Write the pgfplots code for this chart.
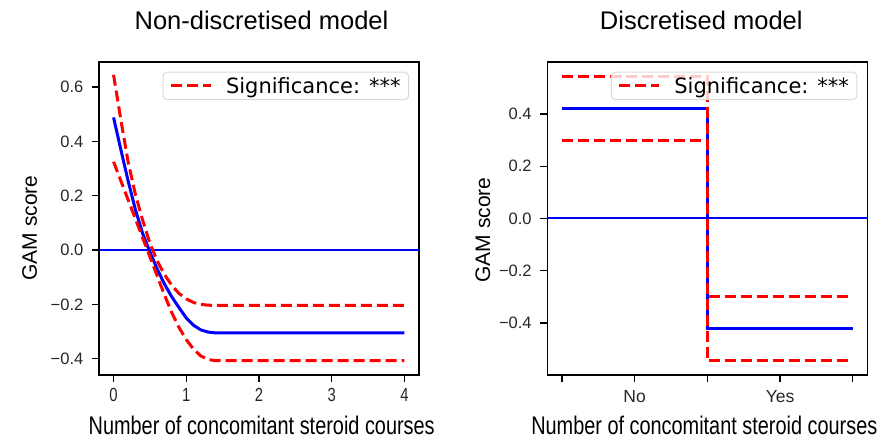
\documentclass[border=0pt]{standalone}
\usepackage{pgfplots}
\pgfplotsset{compat=1.18}
\usepackage{fontspec}
\setmainfont{DejaVu Sans}
\newfontfamily\lib{Liberation Sans}
\newfontfamily\libn[FakeStretch=0.78]{Liberation Sans}

\pgfplotsset{
  gamstyle/.style={
    scale only axis, width=320pt, height=313pt,
    xmin=-0.2, xmax=4.2,
    axis line style={line width=1.6pt, black},
    tick align=outside, xtick pos=bottom, ytick pos=left,
    major tick length=7pt,
    every tick/.style={black, line width=1.4pt},
    xtick={0,1,2,3,4},
    /pgf/number format/assume math mode=true,
    yticklabel style={font=\lib\fontsize{16.5}{18}\selectfont, text=black!85, anchor=east, inner sep=0pt, xshift=-8.5pt},
    title style={font=\lib\fontsize{25.5}{28}\selectfont, anchor=base, at={(axis description cs:0.5,1)}, yshift=26pt},
    xlabel style={font=\libn\fontsize{25.5}{27}\selectfont, anchor=base, at={(axis description cs:0.5,0)}, yshift=-60pt, inner sep=0pt},
    legend style={at={(0.969,0.969)}, anchor=north east, draw=black!15, line width=1pt,
      rounded corners=4pt, fill=white, fill opacity=0.8, text opacity=1, draw opacity=1,
      font=\fontsize{21}{24}\selectfont, inner xsep=6pt, inner ysep=3pt,
      /tikz/every odd column/.style={column sep=12pt}},
    legend image code/.code={\draw[#1] (0pt,0pt) -- (40pt,0pt);},
  },
  bl/.style={blue, line width=3pt},
  rd/.style={red, line width=3pt, dash pattern=on 11pt off 5pt},
  hz/.style={blue, line width=2pt, forget plot},
}

\begin{document}
\begin{tikzpicture}
\path[use as bounding box] (0,0) rectangle (884pt,441pt);

\begin{axis}[gamstyle,
  at={(99pt,66pt)}, anchor=south west,
  ymin=-0.46, ymax=0.692,
  ytick={-0.4,-0.2,0,0.2,0.4,0.6},
  yticklabels={−0.4,−0.2,0.0,0.2,0.4,0.6},
  xticklabels={0,1,2,3,4},
  xticklabel style={font=\libn\fontsize{19}{21}\selectfont, text=black!85, anchor=north, inner sep=0pt, yshift=-6.3pt},
  title={Non-discretised model},
  title style={xshift=2.5pt},
  xlabel={Number of concomitant steroid courses},
  xlabel style={xshift=2.7pt},
  ylabel={GAM score},
  ylabel style={font=\lib\fontsize{21}{24}\selectfont, anchor=base, at={(axis description cs:-0.194,0.47)}},
]
\addplot[hz] coordinates {(-0.2,0) (4.2,0)};
\addplot[bl, forget plot] coordinates {(0,0.488)(0.1,0.37)(0.2,0.255)(0.3,0.149)(0.4,0.061)(0.5,-0.007)(0.6,-0.07)(0.7,-0.125)(0.8,-0.172)(0.9,-0.212)(1.0,-0.25)(1.1,-0.277)(1.2,-0.294)(1.3,-0.302)(1.4,-0.305)(4,-0.305)};
\addplot[rd] coordinates {(0,0.645)(0.1,0.48)(0.2,0.325)(0.3,0.205)(0.4,0.11)(0.5,0.025)(0.6,-0.04)(0.7,-0.09)(0.8,-0.13)(0.9,-0.16)(1.0,-0.18)(1.1,-0.193)(1.2,-0.2)(1.3,-0.203)(1.4,-0.204)(4,-0.204)};
\addlegendentry{Significance: ***}
\addplot[rd, forget plot] coordinates {(0,0.325)(0.1,0.255)(0.2,0.185)(0.3,0.115)(0.4,0.045)(0.5,-0.025)(0.6,-0.095)(0.7,-0.165)(0.8,-0.23)(0.9,-0.285)(1.0,-0.33)(1.1,-0.365)(1.2,-0.39)(1.3,-0.403)(1.4,-0.407)(4,-0.407)};
\end{axis}

\begin{axis}[gamstyle,
  at={(547.3pt,66pt)}, anchor=south west,
  ymin=-0.5995, ymax=0.5995,
  ytick={-0.4,-0.2,0,0.2,0.4},
  yticklabels={−0.4,−0.2,0.0,0.2,0.4},
  xticklabels={,No,,Yes,},
  xticklabel style={font=\lib\fontsize{17.5}{19}\selectfont, text=black!85, anchor=north, inner sep=0pt, yshift=-8pt},
  title={Discretised model},
  title style={xshift=-6pt},
  xlabel={Number of concomitant steroid courses},
  xlabel style={xshift=-3pt},
  ylabel={GAM score},
  ylabel style={font=\lib\fontsize{21}{24}\selectfont, anchor=base, at={(axis description cs:-0.179,0.463)}},
]
\addplot[hz] coordinates {(-0.2,0) (4.2,0)};
\addplot[bl, forget plot] coordinates {(0,0.42)(2,0.42)(2,-0.42)(4,-0.42)};
\addplot[rd] coordinates {(0,0.545)(2,0.545)(2,-0.3)(4,-0.3)};
\addlegendentry{Significance: ***}
\addplot[rd, forget plot] coordinates {(0,0.3)(2,0.3)(2,-0.545)(4,-0.545)};
\end{axis}
\end{tikzpicture}
\end{document}
